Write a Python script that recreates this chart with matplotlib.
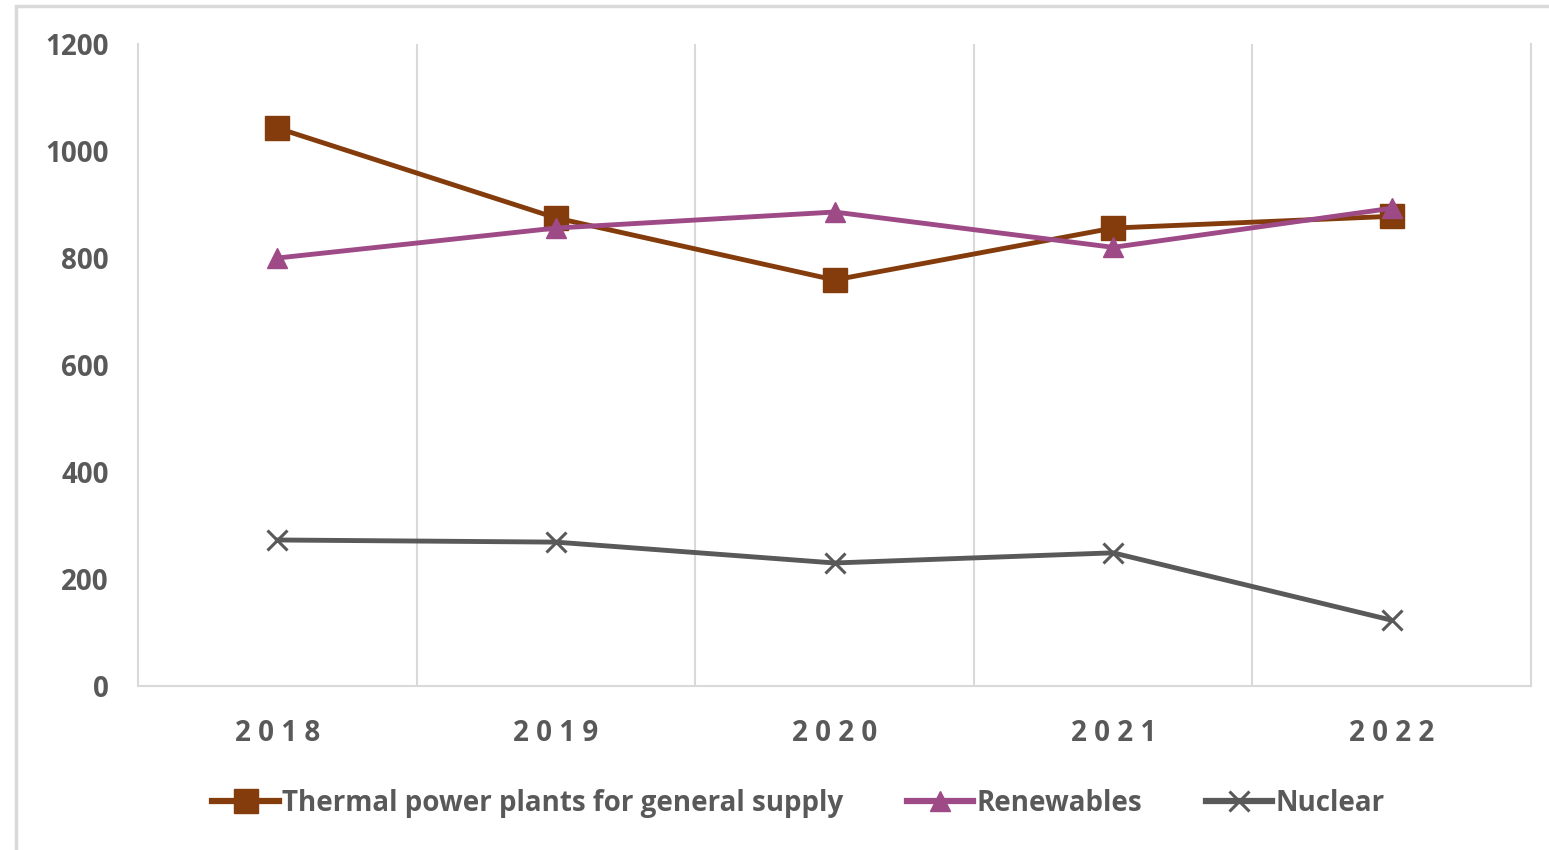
import matplotlib.pyplot as plt
from matplotlib.patches import Rectangle

plt.rcParams["font.family"] = ["Open Sans", "DejaVu Sans"]

years = ["2018", "2019", "2020", "2021", "2022"]
thermal = [1043, 875, 759, 856, 878]
renewables = [800, 856, 886, 820, 893]
nuclear = [273, 269, 230, 249, 123]

TEXT = "#595959"
GRID = "#D9D9D9"

fig = plt.figure(figsize=(15.49, 8.5), dpi=100)
ax = fig.add_axes([0.0891, 0.1929, 0.8993, 0.7553])

# chart frame around everything
fig.patches.append(Rectangle((16 / 1549, -0.02), 1.0, 1 - 6 / 850 + 0.02,
                             transform=fig.transFigure, fill=False,
                             edgecolor=GRID, linewidth=2.5))

x = list(range(len(years)))
ax.plot(x, thermal, color="#843C0C", linewidth=3.5, marker="s",
        markersize=17, label="Thermal power plants for general supply", zorder=3)
ax.plot(x, renewables, color="#9E4A87", linewidth=3.5, marker="^",
        markersize=15, label="Renewables", zorder=4)
ax.plot(x, nuclear, color="#595959", linewidth=3.5, marker="x",
        markersize=14, markeredgewidth=2.2, label="Nuclear", zorder=3)

ax.set_xlim(-0.5, len(years) - 0.5)
ax.set_ylim(0, 1200)
ax.set_yticks(range(0, 1201, 200))
ax.set_xticks(x)
ax.set_xticklabels([" ".join(y) for y in years])

# vertical gridlines between categories
for b in range(1, len(years)):
    ax.axvline(b - 0.5, color=GRID, linewidth=1.5, zorder=1)

ax.spines["top"].set_visible(False)
for side in ["left", "right", "bottom"]:
    ax.spines[side].set_color(GRID)
    ax.spines[side].set_linewidth(1.5)

ax.tick_params(axis="both", length=0, colors=TEXT, labelsize=20)
ax.tick_params(axis="y", pad=21)
ax.tick_params(axis="x", pad=24)
for lbl in ax.get_xticklabels() + ax.get_yticklabels():
    lbl.set_fontweight("bold")

leg = ax.legend(loc="center", bbox_to_anchor=(0.474, -0.183), ncol=3,
                frameon=False, fontsize=20, handlelength=2.4,
                handletextpad=0.1, columnspacing=2.3)
for t in leg.get_texts():
    t.set_color(TEXT)
    t.set_fontweight("bold")
for h in leg.legend_handles:
    h.set_linewidth(4.5)

fig.savefig("out.png", dpi=100)
